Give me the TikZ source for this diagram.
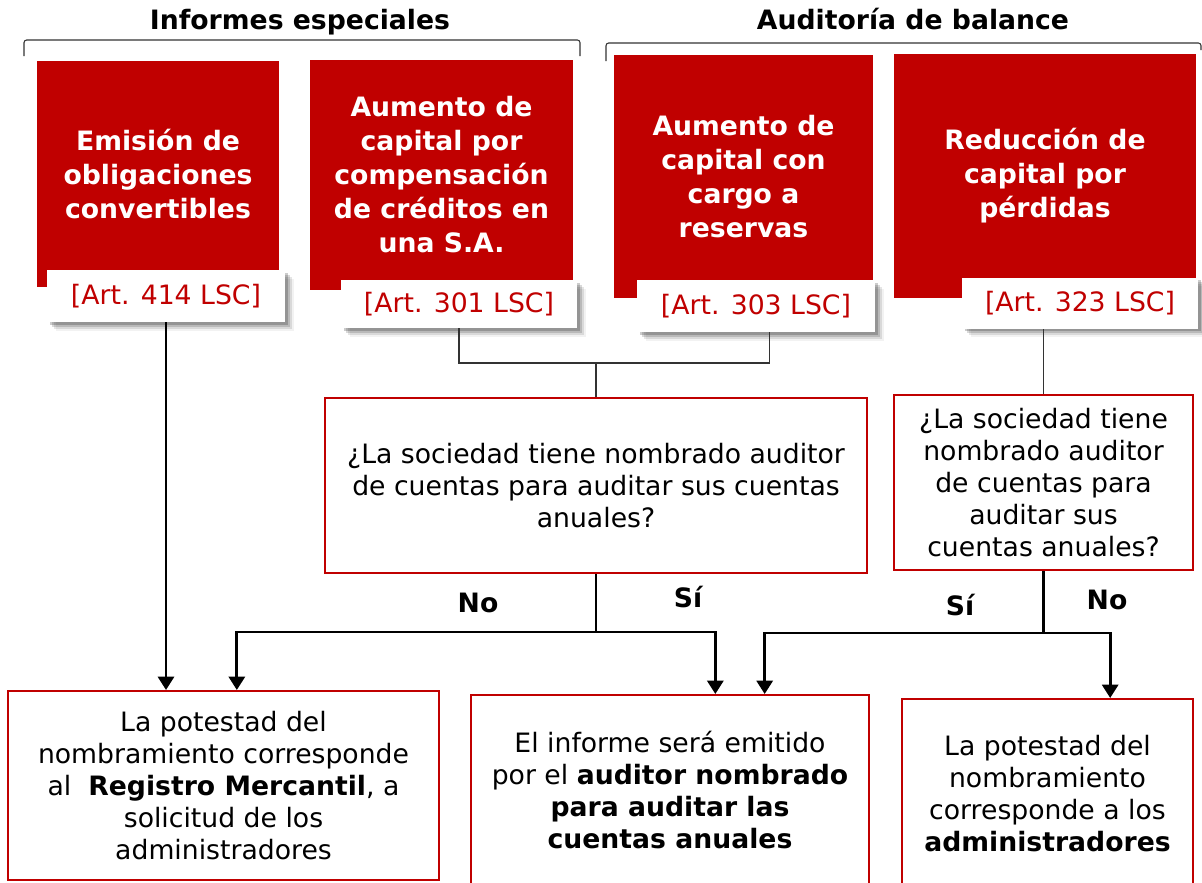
\documentclass[tikz,border=0pt]{standalone}
\usepackage{fontspec}
\setmainfont{DejaVu Sans}
\usetikzlibrary{arrows.meta,shadows,positioning}
\definecolor{darkred}{HTML}{C00000}
\begin{document}
\begin{tikzpicture}[x=0.75pt, y=-0.75pt,
  every node/.style={inner sep=0pt, align=center},
  redbox/.style={fill=darkred, text=white, font=\bfseries\fontsize{20}{25.5}\selectfont},
  artbox/.style={fill=white, text=darkred, font=\fontsize{20}{24}\selectfont,
    drop shadow={shadow xshift=2pt, shadow yshift=-2pt, fill=black, opacity=0.20},
    drop shadow={shadow xshift=3.5pt, shadow yshift=-3.5pt, fill=black, opacity=0.15},
    drop shadow={shadow xshift=5pt, shadow yshift=-5pt, fill=black, opacity=0.10},
    drop shadow={shadow xshift=6.5pt, shadow yshift=-6.5pt, fill=black, opacity=0.05}},
  qbox/.style={draw=darkred, line width=1.5pt, fill=white, font=\fontsize{20}{24}\selectfont},
  title/.style={font=\bfseries\fontsize{20}{24}\selectfont},
  answer/.style={font=\bfseries\fontsize{20}{24}\selectfont},
  link/.style={line width=0.8pt, draw=black!80},
  flow/.style={line width=2.2pt, -{Triangle[width=12pt,length=10pt]}}]
  \useasboundingbox (0,0) rectangle (1202,882);
  \node[title] (informes) at (300,22) {Informes especiales};
  \node[title] (auditoria) at (913,19) {Auditoría de balance};
  \draw[link, rounded corners=2pt] (24,56) -- (24,40) -- (580,40) -- (580,56);
  \draw[link, rounded corners=2pt] (606,61) -- (606,43) -- (1201,43) -- (1201,50);
  \node[redbox, minimum width=181.5pt, minimum height=169.5pt] (emision) at (158,174) {Emisión de\\obligaciones\\convertibles};
  \node[redbox, minimum width=197.25pt, minimum height=172.5pt] (compensacion) at (441.5,175) {Aumento de\\capital por\\compensación\\de créditos en\\una S.A.};
  \node[redbox, minimum width=194.25pt, minimum height=182.25pt] (reservas) at (743.5,176.5) {Aumento de\\capital con\\cargo a\\reservas};
  \node[redbox, minimum width=226.5pt, minimum height=183pt] (perdidas) at (1045,176) {Reducción de\\capital por\\pérdidas};
  \node[artbox, minimum width=178.5pt, minimum height=39pt] (art414) at (166,296) {[Art. 414 LSC]};
  \node[artbox, minimum width=177pt, minimum height=36pt] (art301) at (459,304) {[Art. 301 LSC]};
  \node[artbox, minimum width=178.5pt, minimum height=39pt] (art303) at (756,306) {[Art. 303 LSC]};
  \node[artbox, minimum width=177pt, minimum height=38.25pt] (art323) at (1080,303) {[Art. 323 LSC]};
  \node[qbox, minimum width=406.5pt, minimum height=131.25pt] (pregunta) at (596,485.5) {¿La sociedad tiene nombrado auditor\\de cuentas para auditar sus cuentas\\anuales?};
  \node[qbox, minimum width=224.25pt, minimum height=131.25pt] (pregunta2) at (1043.5,482.5) {¿La sociedad tiene\\nombrado auditor\\de cuentas para\\auditar sus\\cuentas anuales?};
  \node[qbox, minimum width=323.25pt, minimum height=141.75pt] (registro) at (223.5,785.5) {La potestad del\\nombramiento corresponde\\al~\ \textbf{Registro Mercantil}, a\\solicitud de los\\administradores};
  \node[qbox, minimum width=298.5pt, minimum height=143.25pt] (informe) at (670,790.5) {El informe será emitido\\por el \textbf{auditor nombrado}\\\textbf{para auditar las}\\\textbf{cuentas anuales}};
  \node[qbox, minimum width=218.25pt, minimum height=142.5pt] (admin) at (1047.5,794) {La potestad del\\nombramiento\\corresponde a los\\\textbf{administradores}};
  \node[answer] (no1) at (478,603) {No};
  \node[answer] (si1) at (688,597) {Sí};
  \node[answer] (si2) at (960,605) {Sí};
  \node[answer] (no2) at (1107,600) {No};
  \coordinate (junta) at (596,363);
  \coordinate (rama) at (596,632);
  \draw[link] (art301.south) |- (junta) -| ([xshift=10pt]art303.south);
  \draw[link] (junta) -- (pregunta.north);
  \draw[link] (pregunta2.north) -- (pregunta2.north |- art323.south);
  \draw[flow] (art414.south) -- (art414.south |- registro.north);
  \draw[flow] (pregunta.south) -- (rama) -| ([xshift=10pt]registro.north);
  \draw[flow] (rama) -| ([xshift=34pt]informe.north);
  \draw[flow] (pregunta2.south) -- ++(0,62) -| ([xshift=71pt]informe.north);
  \draw[flow] (pregunta2.south) -- ++(0,62) -| ([xshift=47pt]admin.north);
\end{tikzpicture}
\end{document}
